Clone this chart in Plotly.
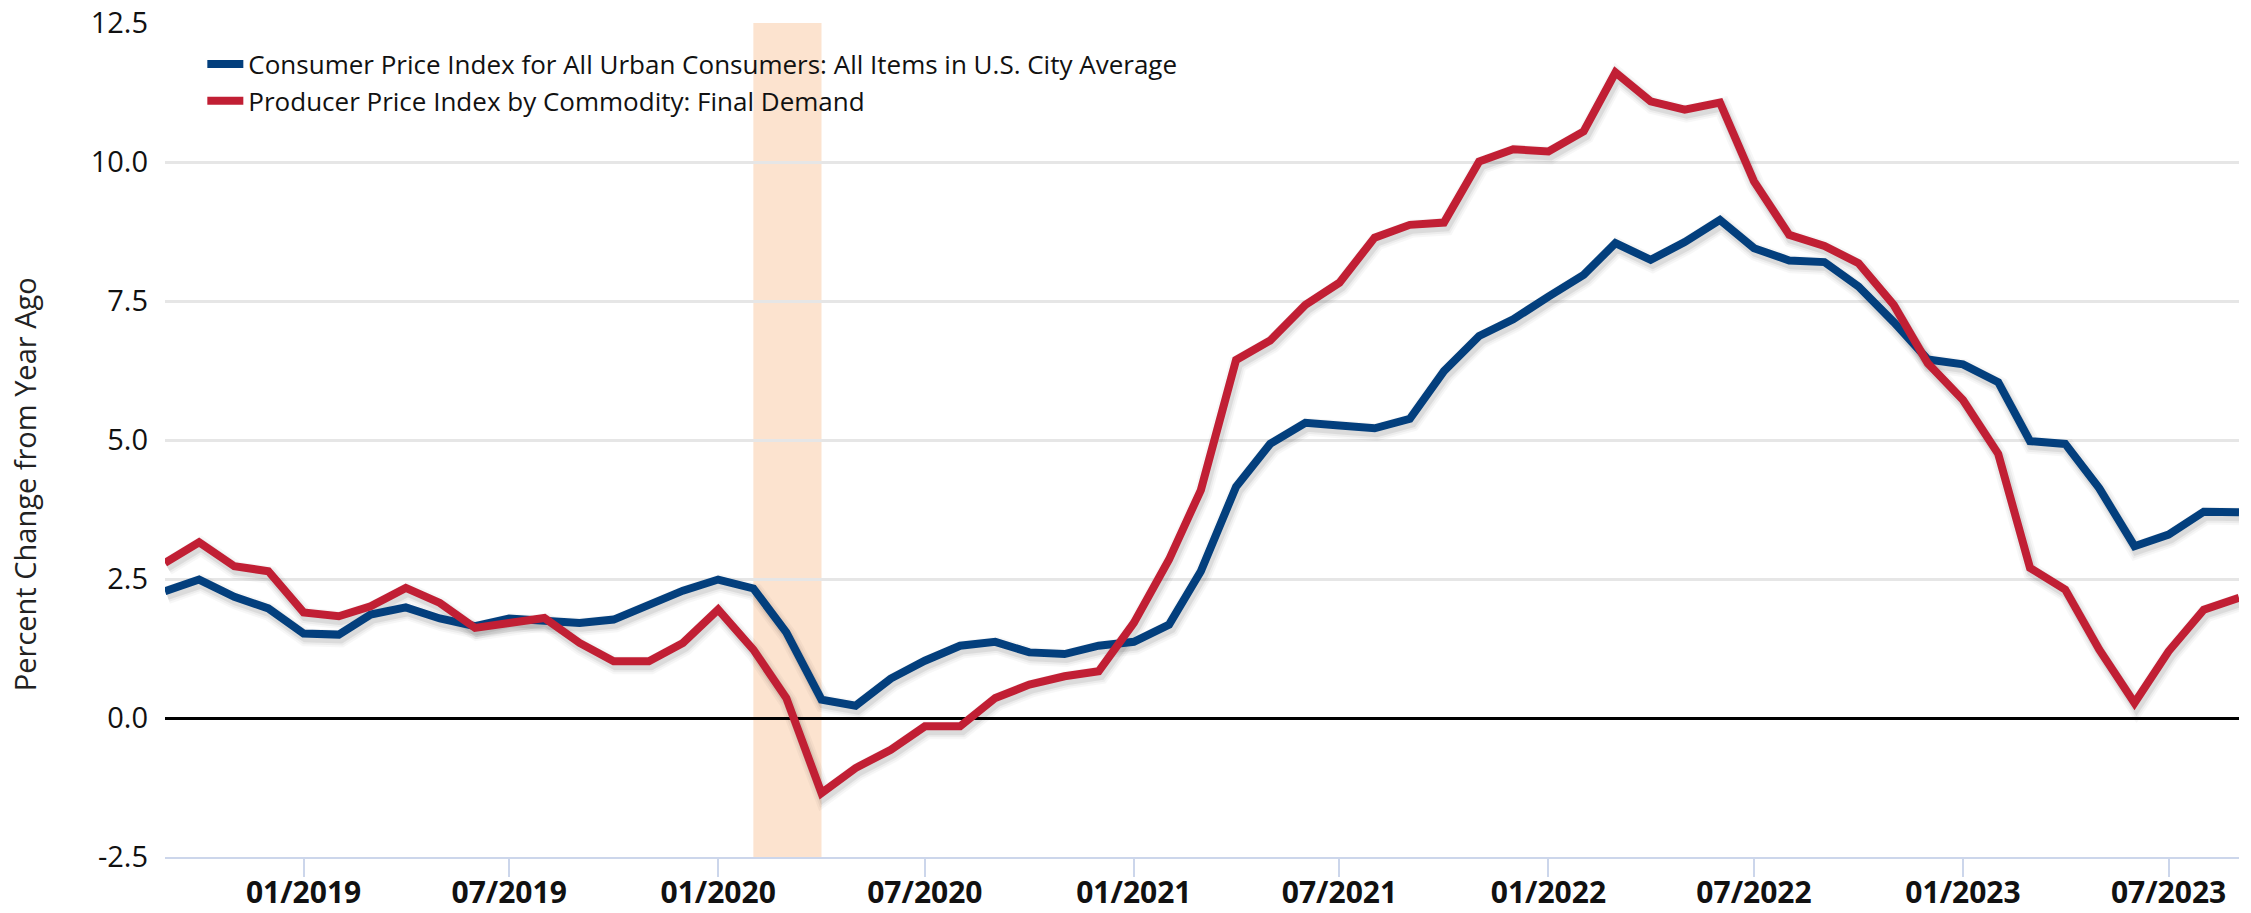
import pandas as pd
import plotly.graph_objects as go

# ---- data -------------------------------------------------------------
months = pd.date_range("2018-09-01", "2023-09-01", freq="MS")

cpi_yoy = [2.28, 2.49, 2.18, 1.97, 1.52, 1.50, 1.86, 1.99, 1.79, 1.65,
           1.79, 1.75, 1.71, 1.77, 2.05, 2.29, 2.49, 2.33, 1.54, 0.33,
           0.22, 0.71, 1.03, 1.30, 1.37, 1.18, 1.15, 1.30, 1.37, 1.68,
           2.64, 4.16, 4.93, 5.31, 5.26, 5.21, 5.38, 6.24, 6.87, 7.17,
           7.58, 7.97, 8.54, 8.24, 8.56, 8.96, 8.45, 8.23, 8.20, 7.76,
           7.12, 6.45, 6.36, 6.04, 4.98, 4.93, 4.13, 3.09, 3.30, 3.71,
           3.70]

ppi_yoy = [2.79, 3.16, 2.73, 2.64, 1.90, 1.83, 2.01, 2.34, 2.07, 1.62,
           1.71, 1.80, 1.35, 1.02, 1.02, 1.35, 1.95, 1.23, 0.36, -1.35,
           -0.90, -0.57, -0.15, -0.15, 0.36, 0.60, 0.75, 0.84, 1.71, 2.85,
           4.10, 6.44, 6.79, 7.43, 7.83, 8.64, 8.87, 8.91, 10.01, 10.23,
           10.19, 10.55, 11.61, 11.09, 10.94, 11.07, 9.65, 8.69, 8.49, 8.18,
           7.43, 6.38, 5.72, 4.75, 2.70, 2.31, 1.23, 0.27, 1.20, 1.95,
           2.16]

cpi_name = "Consumer Price Index for All Urban Consumers: All Items in U.S. City Average"
ppi_name = "Producer Price Index by Commodity: Final Demand"

recession_start = "2020-02-01"
recession_end = "2020-04-01"

x_tick_dates = ["2019-01-01", "2019-07-01", "2020-01-01", "2020-07-01",
                "2021-01-01", "2021-07-01", "2022-01-01", "2022-07-01",
                "2023-01-01", "2023-07-01"]
x_tick_text = ["01/2019", "07/2019", "01/2020", "07/2020", "01/2021",
               "07/2021", "01/2022", "07/2022", "01/2023", "07/2023"]
y_tick_vals = [-2.5, 0.0, 2.5, 5.0, 7.5, 10.0, 12.5]
y_tick_text = ["-2.5", "0.0", "2.5", "5.0", "7.5", "10.0", "12.5"]

y_title = "Percent Change from Year Ago"

# ---- style ------------------------------------------------------------
BLUE = "#033f7d"
RED = "#c11f34"
FONT = "Open Sans"
x_range = ["2018-09-01", "2023-09-01"]
y_range = [-2.5, 12.5]
# shadow axes: slightly shifted ranges so the shadow sits a few px lower/right
sh_x_range = ["2018-08-30 06:00", "2023-08-30 06:00"]
sh_y_range = [-2.5 + 0.07, 12.5 + 0.07]

fig = go.Figure()

# shadows (drawn first, on x2/y2)
for series in (cpi_yoy, ppi_yoy):
    for w, a in ((18, 0.03), (14, 0.045), (10, 0.07)):
        fig.add_trace(go.Scatter(
            x=months, y=series, mode="lines", xaxis="x2", yaxis="y2",
            line=dict(color=f"rgba(0,0,0,{a})", width=w),
            showlegend=False, hoverinfo="skip"))

# main lines (on x3/y3, same scale as the visible axes)
fig.add_trace(go.Scatter(x=months, y=cpi_yoy, mode="lines", name=cpi_name,
                         xaxis="x3", yaxis="y3",
                         line=dict(color=BLUE, width=8)))
fig.add_trace(go.Scatter(x=months, y=ppi_yoy, mode="lines", name=ppi_name,
                         xaxis="x3", yaxis="y3",
                         line=dict(color=RED, width=8)))

fig.add_shape(type="rect", xref="x", yref="paper",
              x0=recession_start, x1=recession_end, y0=0, y1=1,
              fillcolor="#fce3cf", line=dict(width=0), layer="below")

fig.add_annotation(text=y_title, xref="paper", yref="paper",
                   x=0, xshift=-141, y=0.447, xanchor="center",
                   yanchor="middle", textangle=-90, showarrow=False,
                   font=dict(family=FONT, size=29, color="#222"))

hidden = dict(visible=False, showgrid=False, zeroline=False, fixedrange=True)

fig.update_layout(
    width=2251, height=913,
    margin=dict(l=165, r=12, t=23, b=56, autoexpand=False),
    paper_bgcolor="white", plot_bgcolor="white",
    font=dict(family=FONT, color="#111"),
    showlegend=True,
    legend=dict(x=0.018, y=0.979, xanchor="left", yanchor="top",
                bgcolor="rgba(255,255,255,0)", borderwidth=0,
                font=dict(family=FONT, size=26, color="#111"),
                itemwidth=36, tracegroupgap=0),
    xaxis=dict(range=x_range, type="date", showgrid=False, zeroline=False,
               automargin=False,
               tickmode="array", tickvals=x_tick_dates, ticktext=x_tick_text,
               ticks="outside", ticklen=18, tickwidth=2, tickcolor="#ccd6eb",
               showline=True, linecolor="#ccd6eb", linewidth=2,
               ticklabelstandoff=-10,
               tickfont=dict(family=FONT, size=30, color="#111", weight=700)),
    yaxis=dict(range=y_range, tickmode="array", tickvals=y_tick_vals,
               ticktext=y_tick_text, automargin=False,
               showgrid=True, gridcolor="#e6e6e6",
               gridwidth=3, zeroline=True, zerolinecolor="#000",
               zerolinewidth=3, showline=False, ticks="",
               ticklabelstandoff=16,
               tickfont=dict(family=FONT, size=29, color="#111")),
    xaxis2=dict(overlaying="x", range=sh_x_range, type="date", **hidden),
    yaxis2=dict(overlaying="y", range=sh_y_range, **hidden),
    xaxis3=dict(overlaying="x", range=x_range, type="date", **hidden),
    yaxis3=dict(overlaying="y", range=y_range, **hidden),
)

fig.write_html("out.html",
               config={"displayModeBar": False},
               post_script="document.body.style.margin='0';"
                           "document.body.style.overflow='hidden';")
